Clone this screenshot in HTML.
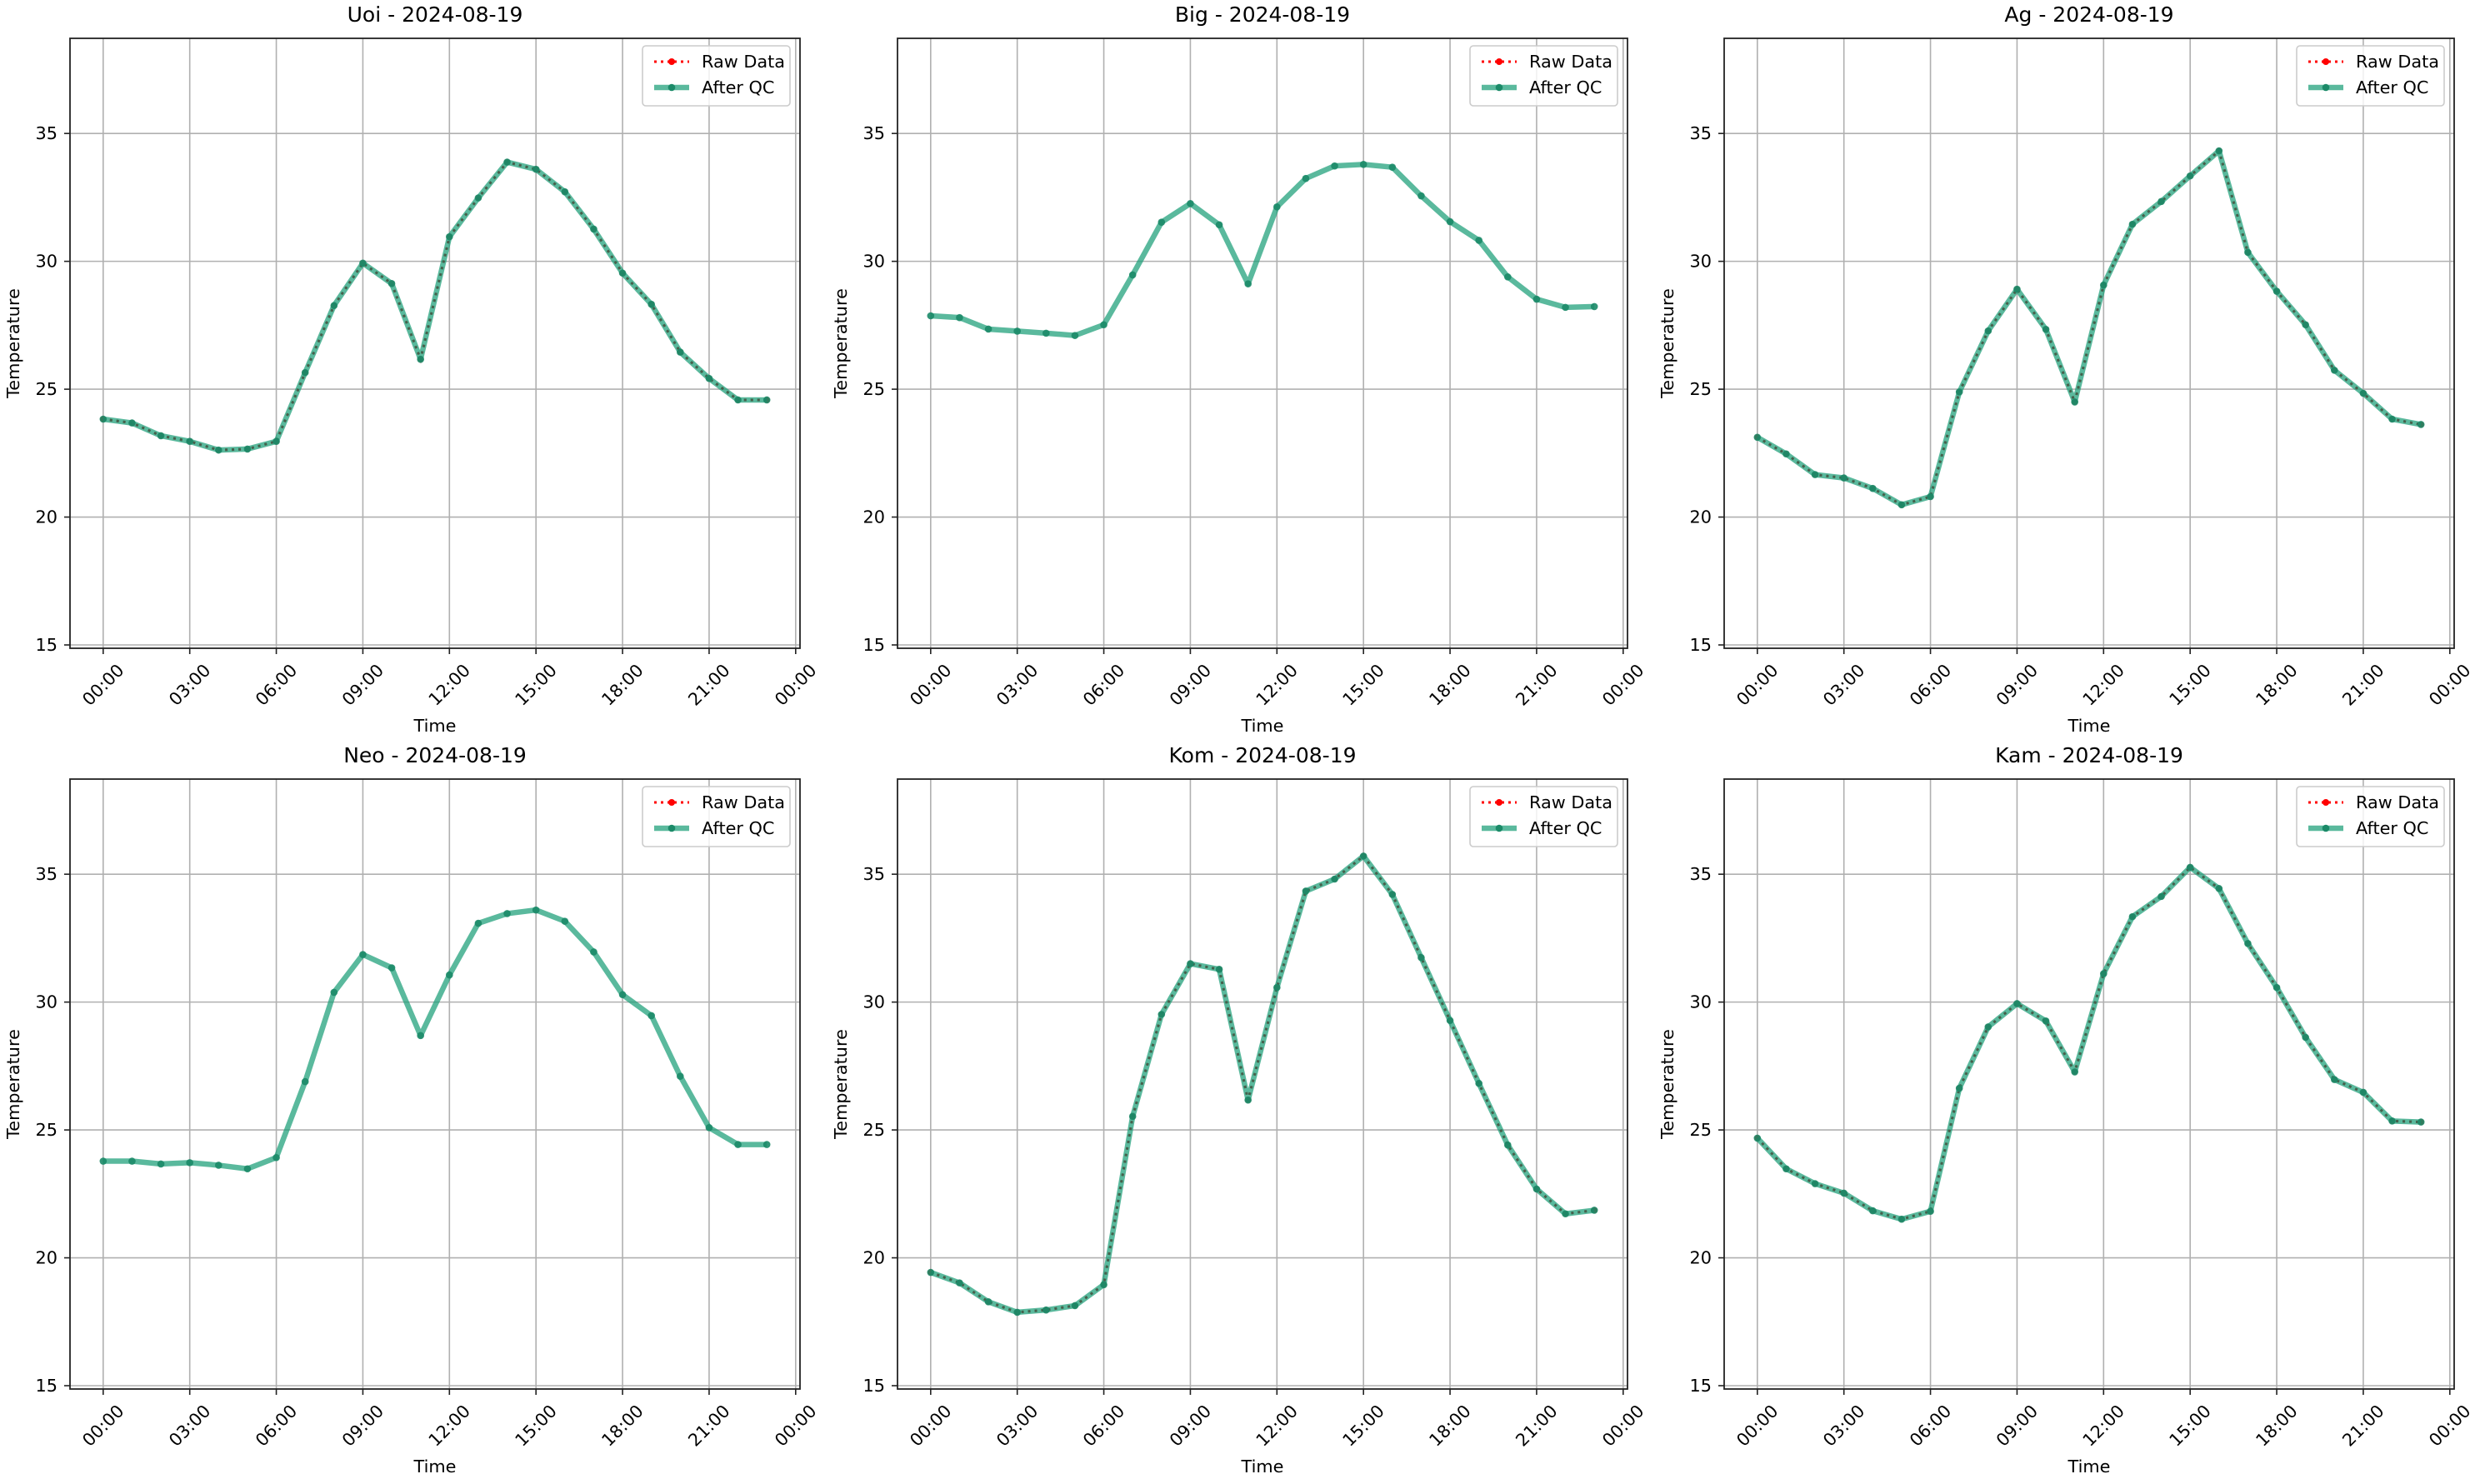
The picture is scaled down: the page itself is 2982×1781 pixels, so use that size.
<!DOCTYPE html>
<html><head><meta charset="utf-8"><title>Temperature QC</title>
<style>
html,body{margin:0;padding:0;background:#fff;}
svg{display:block;font-family:"DejaVu Sans","Liberation Sans",sans-serif;}
</style></head>
<body>
<svg id="fig" width="2982" height="1781" viewBox="0 0 2982 1781" xmlns="http://www.w3.org/2000/svg"></svg>
<script>
const stations = ["Uoi","Big","Ag","Neo","Kom","Kam"];
const dateLabel = "2024-08-19";
const hours = [0,1,2,3,4,5,6,7,8,9,10,11,12,13,14,15,16,17,18,19,20,21,22,23];
const xTicks = [0,3,6,9,12,15,18,21,24];
const xTickLabels = ["00:00","03:00","06:00","09:00","12:00","15:00","18:00","21:00","00:00"];
const yTicks = [15,20,25,30,35];
const showRaw = [true,false,true,false,true,true];
const uoi = [23.83,23.68,23.18,22.96,22.62,22.66,22.96,25.65,28.27,29.93,29.13,26.17,30.96,32.48,33.88,33.6,32.72,31.26,29.54,28.32,26.45,25.42,24.58,24.58];
const big = [27.87,27.8,27.35,27.27,27.19,27.1,27.52,29.47,31.53,32.26,31.43,29.12,32.13,33.24,33.73,33.79,33.68,32.56,31.55,30.82,29.39,28.52,28.2,28.23];
const ag  = [23.12,22.47,21.66,21.53,21.12,20.48,20.8,24.89,27.28,28.91,27.34,24.5,29.07,31.45,32.34,33.34,34.32,30.35,28.83,27.52,25.74,24.84,23.83,23.62];
const neo = [23.78,23.78,23.67,23.72,23.62,23.48,23.92,26.89,30.38,31.86,31.34,28.69,31.06,33.08,33.46,33.6,33.16,31.96,30.29,29.47,27.1,25.09,24.43,24.43];
const kom = [19.43,19.02,18.28,17.87,17.96,18.13,18.95,25.53,29.52,31.5,31.28,26.17,30.57,34.34,34.81,35.71,34.21,31.74,29.28,26.82,24.41,22.69,21.72,21.86];
const kam = [24.68,23.48,22.9,22.53,21.84,21.51,21.82,26.63,29.03,29.94,29.26,27.27,31.11,33.34,34.13,35.27,34.44,32.29,30.57,28.62,26.97,26.47,25.35,25.31];
const series = [uoi,big,ag,neo,kom,kam];

const NS="http://www.w3.org/2000/svg";
const svg=document.getElementById('fig');
function mk(tag,attrs,parent){const e=document.createElementNS(NS,tag);for(const k in attrs)e.setAttribute(k,attrs[k]);(parent||svg).appendChild(e);return e;}

const colL=[84,1077,2069], colW=876;
const rowT=[46,935], rowH=732;
const xMin=-1.15, xMax=24.15, yMin=14.87, yMax=38.72;

for(let i=0;i<6;i++){
  const L=colL[i%3], T=rowT[Math.floor(i/3)], R=L+colW, B=T+rowH;
  const xs=v=>L+(v-xMin)/(xMax-xMin)*colW;
  const ys=v=>B-(v-yMin)/(yMax-yMin)*rowH;
  const g=mk('g',{});
  
  
  // grid
  xTicks.forEach((t,k)=>{
    const ln=mk('line',{x1:xs(t),x2:xs(t),y1:T,y2:B,stroke:'#b0b0b0','stroke-width':1.6},g);
    
    
    const tk=mk('line',{x1:xs(t),x2:xs(t),y1:B,y2:B+7,stroke:'#222','stroke-width':1.6},g);
    
    
    const cx=xs(t), cy=B+44;
    const tx=mk('text',{x:cx,y:cy,'font-size':20.8,'text-anchor':'middle','dominant-baseline':'central',fill:'#000',transform:`rotate(-45 ${cx} ${cy})`},g);
    tx.textContent=xTickLabels[k];
    
    
  });
  yTicks.forEach(t=>{
    const ln=mk('line',{x1:L,x2:R,y1:ys(t),y2:ys(t),stroke:'#b0b0b0','stroke-width':1.6},g);
    
    
    const tk=mk('line',{x1:L-7,x2:L,y1:ys(t),y2:ys(t),stroke:'#222','stroke-width':1.6},g);
    
    
    const tx=mk('text',{x:L-15,y:ys(t),'font-size':20.8,'text-anchor':'end','dominant-baseline':'central',fill:'#000'},g);
    tx.textContent=String(t);
    
    
  });
  const data=series[i];
  const pts=hours.map((h,k)=>xs(h)+','+ys(data[k])).join(' ');
  if(showRaw[i]){
    const raw=mk('polyline',{points:pts,fill:'none',stroke:'#ff0000','stroke-width':3,'stroke-dasharray':'3 5'},g);
    
    
    hours.forEach((h,k)=>{
      const c=mk('circle',{cx:xs(h),cy:ys(data[k]),r:3.5,fill:'#ff0000'},g);
      
      
    });
  }
  const qc=mk('polyline',{points:pts,fill:'none',stroke:'#1b9e77','stroke-width':6.5,'stroke-opacity':0.72,'stroke-linejoin':'round'},g);
  
  
  if(showRaw[i]){
    const ov=mk('polyline',{points:pts,fill:'none',stroke:'#3a5a48','stroke-width':3,'stroke-dasharray':'3 5','stroke-opacity':0.7},g);
    
    
  }
  hours.forEach((h,k)=>{
    const c=mk('circle',{cx:xs(h),cy:ys(data[k]),r:4.3,fill:'#1b8a68','fill-opacity':0.9},g);
    
    
  });
  // spine
  const sp=mk('rect',{x:L,y:T,width:colW,height:rowH,fill:'none',stroke:'#222','stroke-width':1.8},g);
  
  
  // title & labels
  const ti=mk('text',{x:L+colW/2,y:T-20,'font-size':25,'text-anchor':'middle',fill:'#000'},g);
  ti.textContent=stations[i]+' - '+dateLabel;
  
  
  const xl=mk('text',{x:L+colW/2,y:B+100,'font-size':20.8,'text-anchor':'middle',fill:'#000'},g);
  xl.textContent='Time';
  
  
  const yx=L-61, yy=T+rowH/2;
  const yl=mk('text',{x:yx,y:yy,'font-size':20.8,'text-anchor':'middle',fill:'#000',transform:`rotate(-90 ${yx} ${yy})`},g);
  yl.textContent='Temperature';
  
  
  // legend
  const lx=R-12-177, ly=T+9;
  const lg=mk('g',{},g);
  
  
  mk('rect',{x:lx,y:ly,width:177,height:72,rx:4,fill:'#fff','fill-opacity':0.8,stroke:'#cccccc','stroke-width':1.6},lg);
  const r1=ly+19, r2=ly+50;
  mk('line',{x1:lx+14,x2:lx+56,y1:r1,y2:r1,stroke:'#ff0000','stroke-width':3,'stroke-dasharray':'3 5'},lg);
  mk('circle',{cx:lx+35,cy:r1,r:4,fill:'#ff0000'},lg);
  mk('line',{x1:lx+14,x2:lx+56,y1:r2,y2:r2,stroke:'#1b9e77','stroke-width':6.5,'stroke-opacity':0.72},lg);
  mk('circle',{cx:lx+35,cy:r2,r:4.3,fill:'#1b8a68'},lg);
  const t1=mk('text',{x:lx+71,y:r1,'font-size':20.8,'dominant-baseline':'central',fill:'#000'},lg);
  t1.textContent='Raw Data';
  
  
  const t2=mk('text',{x:lx+71,y:r2,'font-size':20.8,'dominant-baseline':'central',fill:'#000'},lg);
  t2.textContent='After QC';
  
  
}
</script>
</body></html>
